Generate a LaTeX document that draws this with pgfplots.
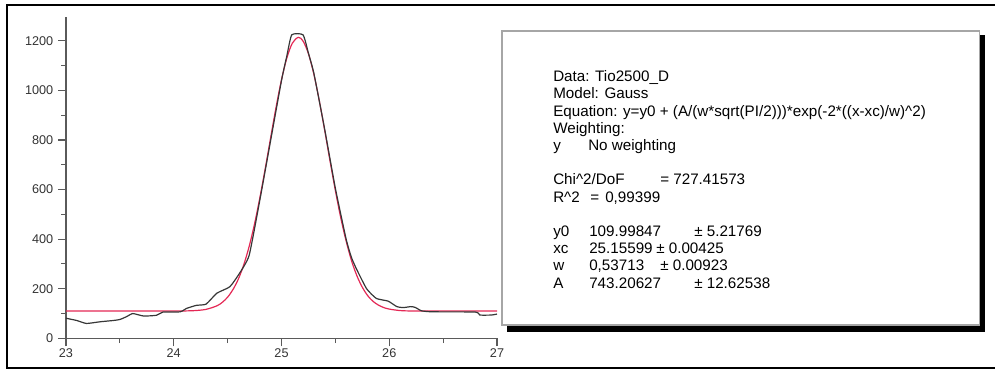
\documentclass[border=0pt]{standalone}
\usepackage{fontspec}
\setmainfont{Liberation Sans}
\usepackage{pgfplots}
\pgfplotsset{compat=1.18}
\definecolor{fitred}{RGB}{228,40,85}
\definecolor{datgray}{RGB}{55,55,55}
\definecolor{axgray}{RGB}{90,90,90}
\newcommand\fs{\fontsize{11.4}{13}\selectfont}
\newcommand\T[3]{\node[anchor=base west,inner sep=0pt,font=\fs] at (#1,369-#2) {#3};}
\begin{document}
\begin{tikzpicture}[x=0.75pt,y=0.75pt]
\path[use as bounding box] (0,0) rectangle (995,369);
% outer frame (top, left, bottom)
\draw[line width=1.5pt,line cap=rect] (995,364) -- (7,364) -- (7,1.5) -- (995,1.5);
\begin{axis}[
  at={(49.5pt,23.0pt)}, anchor=south west,
  scale only axis, width=323.25pt, height=241pt,
  xmin=23, xmax=27, ymin=0, ymax=1296,
  axis lines*=left,
  axis line style={axgray,line width=1pt},
  xtick={23,24,25,26,27}, ytick={0,200,400,600,800,1000,1200},
  minor x tick num=1, minor y tick num=1,
  tick align=outside, tick style={axgray,line width=0.8pt},
  major tick length=6pt, minor tick length=3.5pt,
  tick label style={font=\fontsize{9.5}{11}\selectfont, text=black!80},
  xticklabel style={yshift=2pt},
  /pgf/number format/assume math mode=true,
  /pgf/number format/1000 sep={},
  clip=false,
]
\addplot[fitred, line width=0.9pt, smooth] coordinates {
(23.0,110) (23.5,110) (24.0,110.1) (24.1,110.5) (24.2,112) (24.3,116.9) (24.4,131) (24.45,145)
(24.5,166) (24.55,197) (24.6,239.5) (24.65,297) (24.7,371) (24.75,462) (24.8,569) (24.85,687)
(24.9,811) (24.95,933) (25.0,1043) (25.05,1131) (25.1,1190) (25.156,1214) (25.2,1199) (25.25,1148)
(25.3,1066) (25.35,960) (25.4,841) (25.45,716) (25.5,596) (25.55,486) (25.6,392) (25.65,313)
(25.7,252) (25.75,206) (25.8,172) (25.85,149) (25.9,134) (25.95,124) (26.0,118) (26.1,112)
(26.2,110.5) (26.5,110) (27.0,110)
};
\addplot[datgray, line width=0.9pt, smooth, tension=0.3] coordinates {
(23.0,81) (23.1,72) (23.19,60) (23.32,67) (23.44,72) (23.5,76) (23.56,87) (23.62,100)
(23.72,90) (23.84,93) (23.9,106) (24.06,107) (24.12,121) (24.21,133) (24.3,138) (24.4,182)
(24.52,208) (24.61,262) (24.7,335) (24.8,560) (24.9,800) (25.0,1040) (25.05,1140) (25.095,1224)
(25.2,1224) (25.25,1150) (25.3,1070) (25.4,845) (25.5,605) (25.6,400) (25.65,325) (25.7,276)
(25.79,200) (25.88,161) (25.99,150) (26.07,128) (26.13,124) (26.2,128) (26.24,125) (26.3,111)
(26.4,107) (26.8,106) (26.84,94) (26.95,94) (27.0,98)
};
\end{axis}
% text box with shadow
\fill[black] (979,369-35) rectangle (985,369-332);
\fill[black] (507,369-325) rectangle (985,369-332);
\draw[black!35,line width=0.8pt,fill=white] (502,369-31) rectangle (979.5,369-325);
\T{553}{81.7}{Data: Tio2500\_D}
\T{553}{98.9}{Model: Gauss}
\T{553}{116.1}{Equation: y=y0 + (A/(w*sqrt(PI/2)))*exp(-2*((x-xc)/w)\textasciicircum 2)}
\T{553}{133.3}{Weighting:}
\T{553}{150.5}{y}
\T{588}{150.5}{No weighting}
\T{553}{184.9}{Chi\textasciicircum 2/DoF}
\T{660}{184.9}{= 727.41573}
\T{553}{202.1}{R\textasciicircum 2}
\T{590}{202.1}{=}
\T{605}{202.1}{0,99399}
\T{553}{236.5}{y0}
\T{589}{236.5}{109.99847}
\T{694}{236.5}{± 5.21769}
\T{553}{253.7}{xc}
\T{589}{253.7}{25.15599}
\T{656}{253.7}{± 0.00425}
\T{553}{270.9}{w}
\T{589}{270.9}{0,53713}
\T{660}{270.9}{± 0.00923}
\T{553}{288.1}{A}
\T{589}{288.1}{743.20627}
\T{694}{288.1}{± 12.62538}
\end{tikzpicture}
\end{document}
